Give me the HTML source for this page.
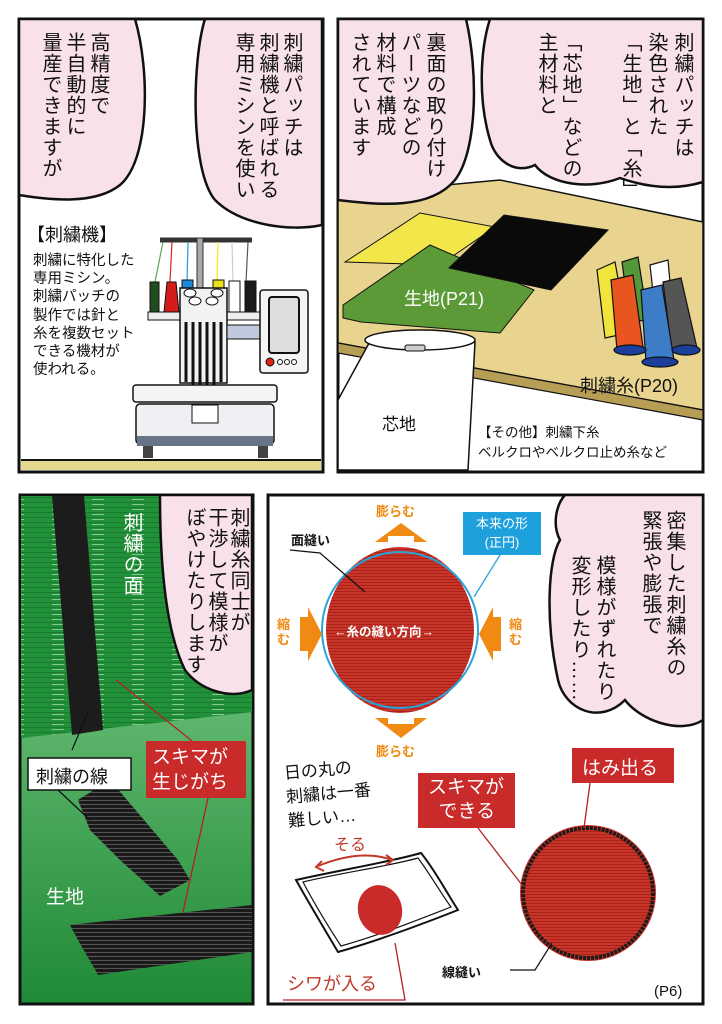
<!DOCTYPE html>
<html><head><meta charset="utf-8">
<style>
html,body{margin:0;padding:0;background:#fff;}
#pg{position:relative;width:722px;height:1024px;overflow:hidden;font-family:"Liberation Sans","Noto Sans CJK JP",sans-serif;}
svg{position:absolute;left:0;top:0;}
.v{position:absolute;writing-mode:vertical-rl;font-size:20px;line-height:24px;color:#111;white-space:nowrap;letter-spacing:1px;}
.h{position:absolute;white-space:nowrap;color:#111;}
</style></head><body><div id="pg">
<svg width="722" height="1024" viewBox="0 0 722 1024">
<defs>
<pattern id="rs" width="4" height="3" patternUnits="userSpaceOnUse"><rect width="4" height="3" fill="#c8342a"/><rect width="4" height="1" fill="#a82418"/></pattern>
<pattern id="gs" width="40" height="5" patternUnits="userSpaceOnUse"><rect width="40" height="5" fill="#22923a"/><rect y="2" width="40" height="1.2" fill="#1b7c2f"/><rect x="12" y="4" width="12" height="0.8" fill="#9fd6a6"/></pattern>
<pattern id="bk" width="5" height="4" patternUnits="userSpaceOnUse"><rect width="5" height="4" fill="#1a1a1a"/><rect width="5" height="1" fill="#555"/></pattern>
<linearGradient id="gg" x1="0" y1="0" x2="0" y2="1"><stop offset="0" stop-color="#fff"/><stop offset="0.3" stop-color="#6cc07a"/><stop offset="1" stop-color="#1f8a35"/></linearGradient>
</defs>
<!-- Panel 1 -->
<rect x="19" y="19" width="304" height="453" fill="#fff" stroke="#111" stroke-width="3"/>
<path d="M19 19 H135 C150 70 150 160 120 185 C95 205 50 200 19 195 Z" fill="#f9e1ec" stroke="#111" stroke-width="2.5"/>
<path d="M205 19 H322 V225 C290 232 240 225 215 200 C190 170 192 60 205 19 Z" fill="#f9e1ec" stroke="#111" stroke-width="2.5"/>
<rect x="21" y="460" width="300" height="10" fill="#e3d88e"/>
<line x1="21" y1="460" x2="321" y2="460" stroke="#111" stroke-width="2"/>
<!-- machine -->
<line x1="160" y1="240" x2="252" y2="240" stroke="#333" stroke-width="5"/>
<rect x="197" y="238" width="6" height="60" fill="#aaa" stroke="#333"/>
<g stroke-width="1.2"><line x1="163" y1="242" x2="155" y2="282" stroke="#5a5"/><line x1="172" y1="242" x2="170" y2="282" stroke="#d22"/><line x1="188" y1="242" x2="187" y2="282" stroke="#29d"/><line x1="218" y1="242" x2="217" y2="282" stroke="#ee0"/><line x1="232" y1="242" x2="233" y2="282" stroke="#ccc"/><line x1="248" y1="242" x2="246" y2="282" stroke="#555"/></g>
<rect x="150" y="282" width="9" height="30" fill="#1f4d1f" stroke="#111"/>
<path d="M164 312 L167 282 H176 L179 312Z" fill="#d51c1c" stroke="#111"/>
<rect x="182" y="280" width="11" height="14" fill="#1c8ad8" stroke="#111"/>
<rect x="213" y="280" width="11" height="14" fill="#e8e21a" stroke="#111"/>
<rect x="229" y="281" width="11" height="31" fill="#fff" stroke="#111"/>
<rect x="245" y="281" width="11" height="31" fill="#1a1a1a" stroke="#111"/>
<rect x="148" y="312" width="112" height="8" fill="#eee" stroke="#111"/>
<rect x="180" y="288" width="47" height="95" fill="#f2f2f2" stroke="#111" stroke-width="1.5"/>
<g fill="#fff" stroke="#111"><ellipse cx="190" cy="293" rx="6" ry="4"/><ellipse cx="195" cy="301" rx="6" ry="4"/><ellipse cx="217" cy="293" rx="6" ry="4"/><ellipse cx="212" cy="301" rx="6" ry="4"/></g>
<g stroke="#111" stroke-width="3"><line x1="186" y1="322" x2="186" y2="382"/><line x1="193" y1="322" x2="193" y2="385"/><line x1="200" y1="322" x2="200" y2="385"/><line x1="207" y1="322" x2="207" y2="385"/><line x1="214" y1="322" x2="214" y2="385"/><line x1="221" y1="322" x2="221" y2="382"/></g>
<rect x="227" y="325" width="33" height="14" fill="#bfc8dc" stroke="#111"/>
<rect x="260" y="290" width="48" height="83" rx="3" fill="#f4f4f4" stroke="#111" stroke-width="1.5"/>
<rect x="269" y="297" width="30" height="56" rx="3" fill="#ddd" stroke="#111" stroke-width="2"/>
<circle cx="270" cy="362" r="4" fill="#d21" stroke="#111"/><g fill="#fff" stroke="#111"><circle cx="280" cy="362" r="2.5"/><circle cx="287" cy="362" r="2.5"/><circle cx="294" cy="362" r="2.5"/></g>
<rect x="133" y="385" width="144" height="17" rx="3" fill="#f4f4f4" stroke="#111" stroke-width="1.5"/>
<rect x="136" y="404" width="138" height="40" rx="4" fill="#eef0f4" stroke="#111" stroke-width="1.5"/>
<rect x="137" y="436" width="136" height="10" fill="#677488"/>
<rect x="192" y="405" width="26" height="18" fill="#fff" stroke="#111"/>
<rect x="143" y="446" width="10" height="12" fill="#444"/><rect x="258" y="446" width="10" height="12" fill="#444"/>
<!-- Panel 2 -->
<rect x="338" y="19" width="365" height="453" fill="#fff" stroke="#111" stroke-width="3"/>
<path d="M338 195 L500 180 L703 222 V410 L338 343Z" fill="#e8d38f" stroke="#111" stroke-width="1.5"/>
<path d="M338 343 L703 410 V420 L338 353Z" fill="#b79e55" stroke="#111" stroke-width="1.2"/>
<path d="M345 262 L420 213 L495 227 L440 265Z" fill="#f2e64a" stroke="#111"/>
<path d="M343 305 L430 245 L534 290 L500 333 L361 322 L343 318Z" fill="#5b9a36" stroke="#111"/>
<path d="M504 215 L608 230 L551 290 L449 268Z" fill="#0a0a0a" stroke="#111"/>
<g stroke="#111" stroke-width="1.2">
<path d="M597 270 L615 262 L628 333 L605 338Z" fill="#f1e43a"/>
<path d="M622 262 L638 257 L648 320 L630 322Z" fill="#54983a"/>
<path d="M650 265 L668 260 L672 305 L655 310Z" fill="#fff"/>
<path d="M611 280 L633 275 L643 347 L617 350Z" fill="#e8551e"/>
<path d="M663 282 L681 278 L697 348 L672 352Z" fill="#555"/>
<path d="M641 290 L662 285 L674 360 L646 362Z" fill="#3d7dc8"/>
<ellipse cx="660" cy="362" rx="18" ry="5" fill="#1a3e9a"/><ellipse cx="630" cy="350" rx="16" ry="5" fill="#1a3e9a"/><ellipse cx="686" cy="350" rx="14" ry="5" fill="#1a3e9a"/>
</g>
<path d="M368 345 C370 340 455 335 475 342 L468 470 L338 470 V400Z" fill="#fff" stroke="#111" stroke-width="1.5"/>
<ellipse cx="420" cy="340" rx="55" ry="10" fill="#fff" stroke="#111" stroke-width="1.5"/>
<rect x="405" y="345" width="20" height="6" rx="2" fill="#ccc" stroke="#111"/>
<path d="M490 19 H703 V182 C670 192 640 185 620 178 C590 190 550 185 535 165 C515 175 495 160 490 140 C478 100 480 50 490 19Z" fill="#f9e1ec" stroke="#111" stroke-width="2.5"/>
<path d="M338 19 H466 C478 70 478 150 455 180 C430 210 380 205 338 200Z" fill="#f9e1ec" stroke="#111" stroke-width="2.5"/>
<!-- Panel 3 -->
<rect x="20" y="495" width="233" height="509" fill="url(#gg)" stroke="#111" stroke-width="3"/>
<path d="M21 496 H252 V712 L21 738Z" fill="url(#gs)"/>
<path d="M52 496 H84 L103 730 L72 735Z" fill="#1c1c1c"/>
<path d="M78 800 L110 780 L178 860 L190 880 L160 896 L120 860 L90 830Z" fill="url(#bk)"/>
<path d="M70 925 L252 905 V952 L98 975 C90 960 80 945 70 925Z" fill="url(#bk)"/>
<path d="M160 495 H252 V690 C230 700 200 690 185 670 C165 630 160 560 160 495Z" fill="#f9e1ec" stroke="#111" stroke-width="2.5"/>
<rect x="28" y="758" width="103" height="32" fill="#fff" stroke="#111" stroke-width="1.5"/>
<polyline points="88,712 72,750" stroke="#111" fill="none" stroke-width="1.2"/>
<polyline points="58,790 90,820" stroke="#111" fill="none" stroke-width="1.2"/>
<rect x="146" y="741" width="100" height="57" fill="#c92a2a"/>
<line x1="116" y1="680" x2="192" y2="741" stroke="#b32020" stroke-width="1.3"/>
<line x1="208" y1="798" x2="183" y2="912" stroke="#b32020" stroke-width="1.3"/>
<!-- Panel 4 -->
<rect x="268" y="495" width="435" height="509" fill="#fff" stroke="#111" stroke-width="3"/>
<ellipse cx="400" cy="630" rx="74" ry="83" fill="url(#rs)"/>
<circle cx="400" cy="630" r="78" fill="none" stroke="#29a3d8" stroke-width="2"/>
<g fill="#f08a12">
<path d="M375 542 H388 V536 H414 V542 H427 L401 523Z"/>
<path d="M375 718 H388 V724 H414 V718 H427 L401 738Z"/>
<path d="M300 617 H308 V607 L322 634 L308 661 V651 H300Z"/>
<path d="M501 617 H493 V607 L479 634 L493 661 V651 H501Z"/>
</g>
<polyline points="290,550 320,553 365,592" stroke="#111" fill="none" stroke-width="1.2"/>
<rect x="463" y="512" width="78" height="43" fill="#1ea0dc"/>
<line x1="500" y1="555" x2="474" y2="597" stroke="#29a3d8" stroke-width="1.3"/>
<path d="M565 495 H703 V720 C680 735 640 720 625 700 C600 725 565 710 558 680 C545 620 548 560 560 540 C552 525 556 505 565 495Z" fill="#f9e1ec" stroke="#111" stroke-width="2.5"/>
<circle cx="588" cy="893" r="68" fill="#c8342a"/>
<circle cx="588" cy="893" r="65" fill="url(#rs)" stroke="#1a1a1a" stroke-width="4" stroke-dasharray="3 1"/>
<rect x="572" y="748" width="102" height="35" fill="#c92a2a"/>
<rect x="418" y="773" width="97" height="55" fill="#c92a2a"/>
<line x1="590" y1="783" x2="584" y2="828" stroke="#b32020" stroke-width="1.3"/>
<line x1="478" y1="828" x2="522" y2="885" stroke="#b32020" stroke-width="1.3"/>
<polyline points="510,970 535,970 552,943" stroke="#111" fill="none" stroke-width="1.2"/>
<path d="M296 880 C340 870 390 862 421 853 C435 870 448 895 458 910 C420 925 380 940 338 952 C325 930 310 905 296 880Z" fill="#fff" stroke="#111" stroke-width="2"/>
<path d="M303 882 C340 873 390 866 418 858 C430 874 442 895 451 907 C415 921 380 935 341 946 C328 926 315 905 303 882Z" fill="none" stroke="#111" stroke-width="1.2"/>
<ellipse cx="380" cy="910" rx="22" ry="25" fill="#c92a2a" transform="rotate(-15 380 910)"/>
<path d="M318 866 C345 855 370 852 392 860" stroke="#c0392b" stroke-width="2" fill="none"/>
<path d="M322 861 L316 867 L324 871" stroke="#c0392b" stroke-width="2" fill="none"/>
<path d="M386 855 L393 860 L386 865" stroke="#c0392b" stroke-width="2" fill="none"/>
<polyline points="395,943 405,1000 283,1000" stroke="#b32020" fill="none" stroke-width="1.3"/>
</svg>
<div class="v" style="left:231px;top:32px;">刺繍パッチは<br>刺繍機と呼ばれる<br>専用ミシンを使い</div>
<div class="v" style="left:38px;top:32px;">高精度で<br>半自動的に<br>量産できますが</div>
<div class="h" style="left:27px;top:221px;font-size:18px;">【刺繍機】</div>
<div class="h" style="left:33px;top:252px;font-size:14.5px;line-height:18.2px;">刺繍に特化した<br>専用ミシン。<br>刺繍パッチの<br>製作では針と<br>糸を複数セット<br>できる機材が<br>使われる。</div>
<div class="v" style="left:534px;top:32px;">「芯地」などの<br>主材料と</div>
<div class="v" style="left:617px;top:32px;line-height:26px;">刺繍パッチは<br>染色された<br>「生地」と「糸」</div>
<div class="v" style="left:346px;top:32px;line-height:25px;">裏面の取り付け<br>パーツなどの<br>材料で構成<br>されています</div>
<div class="h" style="left:404px;top:285px;font-size:18px;color:#fff;">生地(P21)</div>
<div class="h" style="left:580px;top:372px;font-size:18px;">刺繍糸(P20)</div>
<div class="h" style="left:382px;top:410px;font-size:17px;">芯地</div>
<div class="h" style="left:478px;top:423px;font-size:13.5px;line-height:20px;">【その他】刺繍下糸<br>ベルクロやベルクロ止め糸など</div>
<div class="v" style="left:183px;top:507px;line-height:22px;">刺繍糸同士が<br>干渉して模様が<br>ぼやけたりします</div>
<div class="v" style="left:119px;top:512px;color:#fff;">刺繍の面</div>
<div class="h" style="left:36px;top:763px;font-size:18px;">刺繍の線</div>
<div class="h" style="left:152px;top:745px;font-size:19px;line-height:25px;color:#fff;">スキマが<br>生じがち</div>
<div class="h" style="left:46px;top:882px;font-size:19px;color:#fff;">生地</div>
<div class="v" style="left:638px;top:510px;line-height:24px;">密集した刺繍糸の<br>緊張や膨張で</div>
<div class="v" style="left:566px;top:555px;line-height:25px;">模様がずれたり<br>変形したり……</div>
<div class="h" style="left:376px;top:501px;font-size:13px;font-weight:bold;color:#f08a12;">膨らむ</div>
<div class="h" style="left:376px;top:741px;font-size:13px;font-weight:bold;color:#f08a12;">膨らむ</div>
<div class="h" style="left:277px;top:617px;font-size:13px;line-height:15px;font-weight:bold;color:#f08a12;">縮<br>む</div>
<div class="h" style="left:509px;top:617px;font-size:13px;line-height:15px;font-weight:bold;color:#f08a12;">縮<br>む</div>
<div class="h" style="left:291px;top:530px;font-size:13px;font-weight:bold;">面縫い</div>
<div class="h" style="left:334px;top:621px;font-size:12.5px;font-weight:bold;color:#fff;">←糸の縫い方向→</div>
<div class="h" style="left:470px;top:514px;font-size:13px;line-height:19px;color:#fff;text-align:center;width:64px;">本来の形<br>(正円)</div>
<div class="h" style="left:283px;top:762px;font-size:17px;line-height:24px;transform:rotate(-5deg);transform-origin:left top;">日の丸の<br>刺繍は一番<br>難しい…</div>
<div class="h" style="left:334px;top:831px;font-size:16px;color:#c0392b;">そる</div>
<div class="h" style="left:582px;top:753px;font-size:19px;color:#fff;">はみ出る</div>
<div class="h" style="left:428px;top:776px;font-size:19px;line-height:24px;color:#fff;">スキマが<br>&nbsp;&nbsp;できる</div>
<div class="h" style="left:287px;top:970px;font-size:18px;color:#c0392b;">シワが入る</div>
<div class="h" style="left:442px;top:962px;font-size:13px;font-weight:bold;">線縫い</div>
<div class="h" style="left:654px;top:983px;font-size:15px;">(P6)</div>
</div></body></html>
